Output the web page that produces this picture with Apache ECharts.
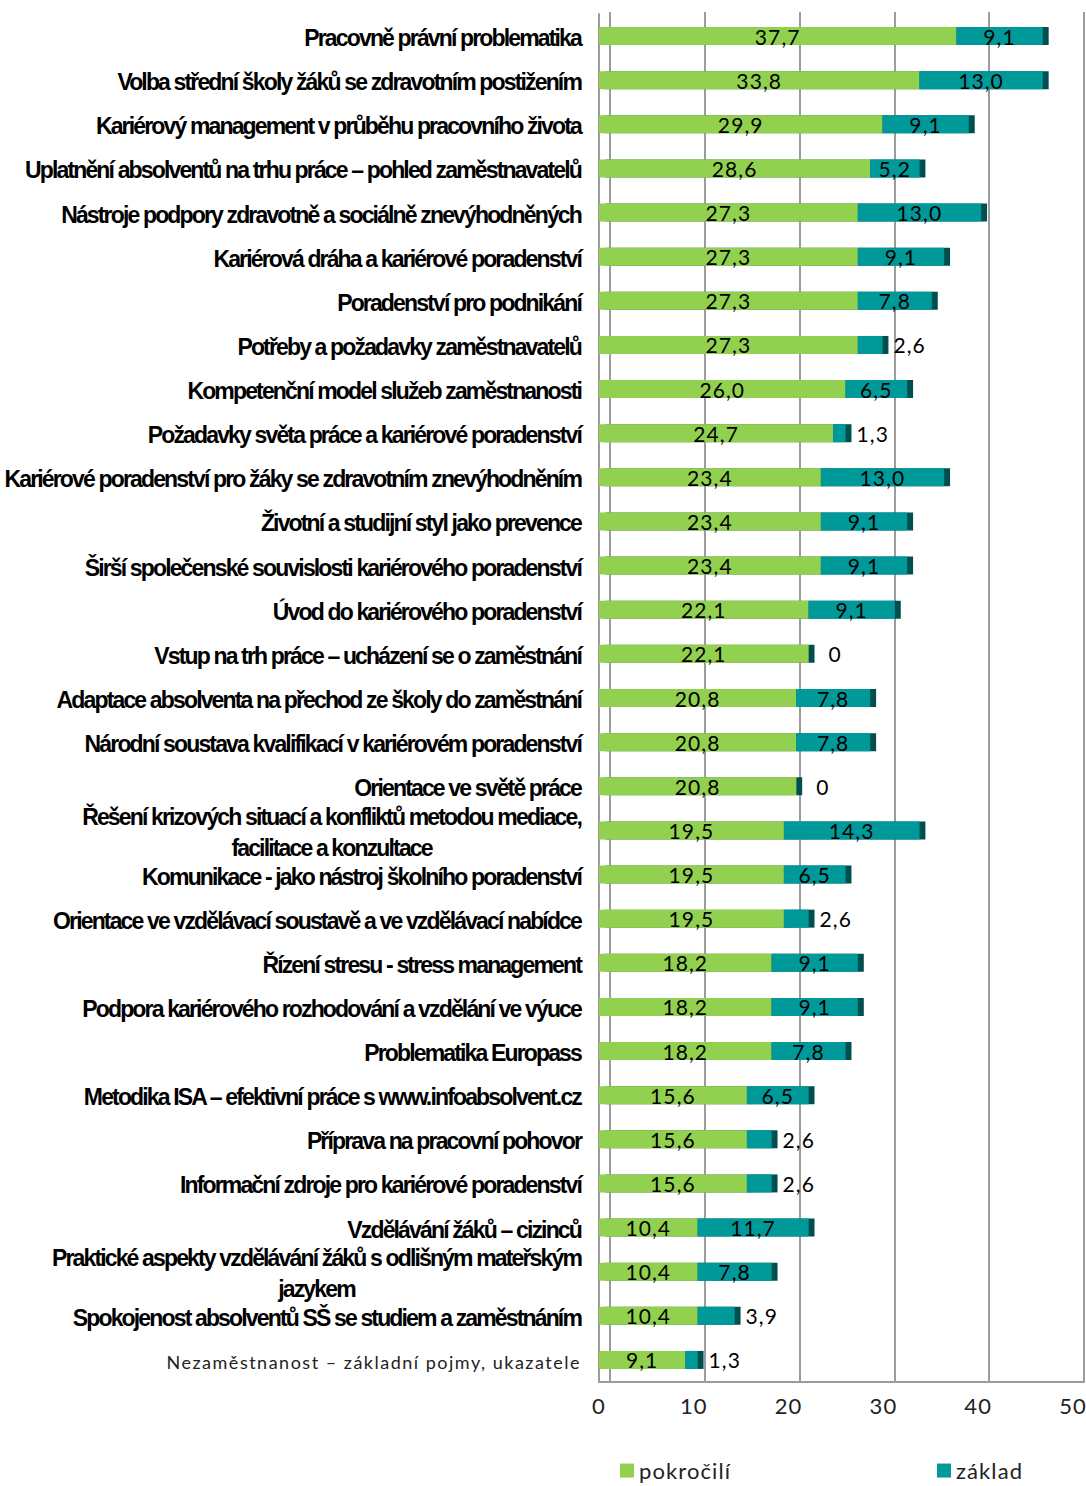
<!DOCTYPE html>
<html>
<head>
<meta charset="utf-8">
<script src="https://cdn.jsdelivr.net/npm/echarts@6/dist/echarts.min.js"></script>
<style>
  html, body { margin: 0; padding: 0; background: #fff; }
  #main { width: 1086px; height: 1486px; }
</style>
</head>
<body>
<div id="main"></div>
<script>
const categories = [
  'Pracovně právní problematika',
  'Volba střední školy žáků se zdravotním postižením',
  'Kariérový management v průběhu pracovního života',
  'Uplatnění absolventů na trhu práce – pohled zaměstnavatelů',
  'Nástroje podpory zdravotně a sociálně znevýhodněných',
  'Kariérová dráha a kariérové poradenství',
  'Poradenství pro podnikání',
  'Potřeby a požadavky zaměstnavatelů',
  'Kompetenční model služeb zaměstnanosti',
  'Požadavky světa práce a kariérové poradenství',
  'Kariérové poradenství pro žáky se zdravotním znevýhodněním',
  'Životní a studijní styl jako prevence',
  'Širší společenské souvislosti kariérového poradenství',
  'Úvod do kariérového poradenství',
  'Vstup na trh práce – ucházení se o zaměstnání',
  'Adaptace absolventa na přechod ze školy do zaměstnání',
  'Národní soustava kvalifikací v kariérovém poradenství',
  'Orientace ve světě práce',
  'Řešení krizových situací a konfliktů metodou mediace,\nfacilitace a konzultace',
  'Komunikace - jako nástroj školního poradenství',
  'Orientace ve vzdělávací soustavě a ve vzdělávací nabídce',
  'Řízení stresu - stress management',
  'Podpora kariérového rozhodování a vzdělání ve výuce',
  'Problematika Europass',
  'Metodika ISA – efektivní práce s www.infoabsolvent.cz',
  'Příprava na pracovní pohovor',
  'Informační zdroje pro kariérové poradenství',
  'Vzdělávání žáků – cizinců',
  'Praktické aspekty vzdělávání žáků s odlišným mateřským\njazykem',
  'Spokojenost absolventů SŠ se studiem a zaměstnáním',
  'Nezaměstnanost – základní pojmy, ukazatele'
];

const pokrocili = [37.7, 33.8, 29.9, 28.6, 27.3, 27.3, 27.3, 27.3, 26.0, 24.7, 23.4, 23.4, 23.4, 22.1, 22.1,
  20.8, 20.8, 20.8, 19.5, 19.5, 19.5, 18.2, 18.2, 18.2, 15.6, 15.6, 15.6, 10.4, 10.4, 10.4, 9.1];
const zaklad = [9.1, 13.0, 9.1, 5.2, 13.0, 9.1, 7.8, 2.6, 6.5, 1.3, 13.0, 9.1, 9.1, 9.1, 0,
  7.8, 7.8, 0, 14.3, 6.5, 2.6, 9.1, 9.1, 7.8, 6.5, 2.6, 2.6, 11.7, 7.8, 3.9, 1.3];
const xTicks = [0, 10, 20, 30, 40, 50];

const fmt = v => v === 0 ? '0' : v.toFixed(1).replace('.', ',');
const valueFont = 'Lato';
const catFont = 'Liberation Sans';

// the original uses a squeezed narrow font for categories and a spaced one for numbers
function spacingFor(font) {
  if (/Liberation/.test(font)) return -1.85;
  if (/\b18px/.test(font)) return 1.5;
  return 1.1;
}
const mctx = document.createElement('canvas').getContext('2d');
if (echarts.setPlatformAPI) {
  echarts.setPlatformAPI({
    measureText(text, font) {
      mctx.font = font || '12px sans-serif';
      const w = mctx.measureText(text).width;
      return { width: w + spacingFor(mctx.font) * text.length };
    }
  });
}

const chart = echarts.init(document.getElementById('main'), null, { renderer: 'svg' });

chart.setOption({
  animation: false,
  grid: [
    { left: 599, right: 13, top: 14, bottom: 104, outerBoundsMode: 'none', containLabel: false },
    { left: 610, right: 2, top: 12, bottom: 104, outerBoundsMode: 'none', containLabel: false }
  ],
  xAxis: [
    {
      type: 'value', gridIndex: 0, min: xTicks[0], max: xTicks[xTicks.length - 1], interval: 10,
      axisLine: { show: true, lineStyle: { color: '#9c9c9c', width: 2 } },
      axisTick: { show: false },
      splitLine: { show: false },
      axisLabel: { margin: 12, fontSize: 22, color: '#222', fontFamily: valueFont }
    },
    {
      type: 'value', gridIndex: 1, min: xTicks[0], max: xTicks[xTicks.length - 1], interval: 10,
      axisLine: { show: true, lineStyle: { color: '#9c9c9c', width: 2 } },
      axisTick: { show: false },
      axisLabel: { show: false },
      splitLine: { show: true, lineStyle: { color: '#9c9c9c', width: 2 } }
    }
  ],
  yAxis: [
    {
      type: 'category', gridIndex: 0, inverse: true, data: categories,
      axisLine: { show: true, lineStyle: { color: '#9c9c9c', width: 2 } },
      axisTick: { show: false },
      axisLabel: {
        margin: 18, fontSize: 23, fontWeight: 'bold', color: '#000', fontFamily: catFont,
        lineHeight: 31, padding: [4, 0, 0, 0],
        formatter(v, i) {
          if (i === categories.length - 1) return `{n|${v}}`;
          if (v.indexOf('\n') >= 0) return v.split('\n').map(s => `{c|${s}}`).join('\n');
          return v;
        },
        rich: {
          c: { align: 'center', fontSize: 23, fontWeight: 'bold', color: '#000', fontFamily: catFont, lineHeight: 31 },
          n: { fontSize: 18, color: '#222', fontFamily: valueFont, fontWeight: 'normal' }
        }
      }
    },
    { type: 'value', gridIndex: 1, show: false, min: 0, max: 1 }
  ],
  legend: [
    {
      data: ['pokročilí'], left: 615, top: 1454, itemWidth: 14, itemHeight: 14, icon: 'rect',
      textStyle: { fontSize: 22, color: '#222', fontFamily: valueFont }
    },
    {
      data: ['základ'], left: 932, top: 1454, itemWidth: 14, itemHeight: 14, icon: 'rect',
      textStyle: { fontSize: 22, color: '#222', fontFamily: valueFont }
    }
  ],
  series: [
    {
      name: 'pokročilí',
      type: 'bar',
      stack: 'total',
      barWidth: 18,
      data: pokrocili,
      itemStyle: { color: '#92D050', shadowColor: '#004f4f', shadowOffsetX: 6, shadowBlur: 0 },
      label: {
        show: true, position: 'inside', color: '#000', fontSize: 21, fontFamily: valueFont,
        formatter: p => fmt(p.value)
      },
      emphasis: { disabled: true }
    },
    {
      name: 'základ',
      type: 'bar',
      stack: 'total',
      barWidth: 18,
      data: zaklad.map(v => ({
        value: v,
        label: v < 5 ? { position: 'right', distance: v === 0 ? 20 : 11 } : { position: 'inside' }
      })),
      itemStyle: { color: '#009999', shadowColor: '#004f4f', shadowOffsetX: 6, shadowBlur: 0 },
      label: {
        show: true, color: '#000', fontSize: 21, fontFamily: valueFont,
        formatter: p => fmt(p.value)
      },
      emphasis: { disabled: true }
    }
  ]
});

// apply the same letter spacing to the drawn svg text
document.querySelectorAll('#main text').forEach(t => {
  const cs = getComputedStyle(t);
  const font = cs.fontWeight + ' ' + cs.fontSize + ' ' + cs.fontFamily;
  t.style.letterSpacing = spacingFor(font) + 'px';
});
</script>
</body>
</html>
